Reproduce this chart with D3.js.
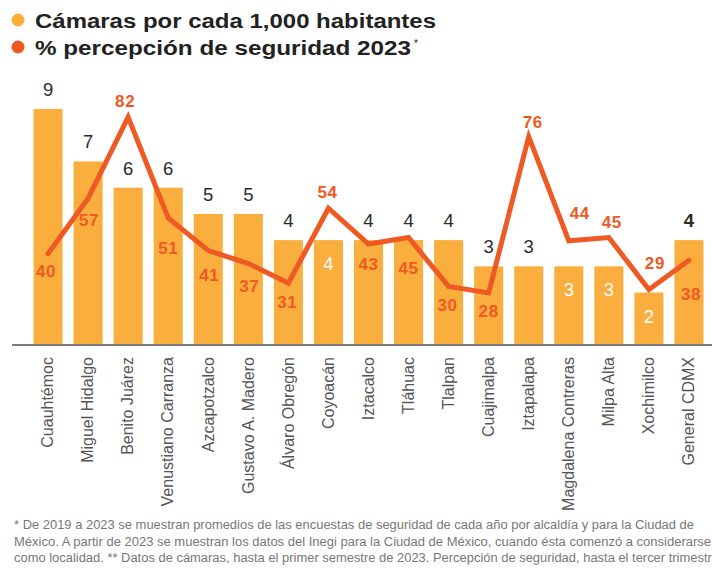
<!DOCTYPE html>
<html lang="es">
<head>
<meta charset="utf-8">
<script src="https://cdn.jsdelivr.net/npm/d3@7"></script>
<style>
  html, body { margin: 0; padding: 0; background: #fff; }
  svg { display: block; }
  text { font-family: "Liberation Sans", Arial, Helvetica, sans-serif; }
</style>
</head>
<body>
<svg id="chart" width="712" height="572"></svg>
<script>
// Alcaldías de la Ciudad de México
const alcaldias = [
  "Cuauhtémoc", "Miguel Hidalgo", "Benito Juárez", "Venustiano Carranza",
  "Azcapotzalco", "Gustavo A. Madero", "Álvaro Obregón", "Coyoacán",
  "Iztacalco", "Tláhuac", "Tlalpan", "Cuajimalpa", "Iztapalapa",
  "Magdalena Contreras", "Milpa Alta", "Xochimilco", "General CDMX"
];
// Cámaras por cada 1,000 habitantes
const camaras = [9, 7, 6, 6, 5, 5, 4, 4, 4, 4, 4, 3, 3, 3, 3, 2, 4];
// % percepción de seguridad 2023
const percepcion = [40, 57, 82, 51, 41, 37, 31, 54, 43, 45, 30, 28, 76, 44, 45, 29, 38];

const leyenda = ["Cámaras por cada 1,000 habitantes", "% percepción de seguridad 2023"];
const nota = [
  "* De 2019 a 2023 se muestran promedios de las encuestas de seguridad de cada año por alcaldía y para la Ciudad de",
  "México. A partir de 2023 se muestran los datos del Inegi para la Ciudad de México, cuando ésta comenzó a considerarse",
  "como localidad. ** Datos de cámaras, hasta el primer semestre de 2023. Percepción de seguridad, hasta el tercer trimestre"
];

// Label nudges for the percentage labels (px from each point: [dx, baseline dy])
const percLabelOffset = [
  [-2, 23], [1, 28], [-3, -10], [0, 36], [1, 30], [1, 28], [-1, 25], [-1, -10],
  [0, 26], [0, 36], [-1, 25], [0, 24], [4, -9], [11, -22], [3, -10], [6, -21], [2, 40]
];

const AMARILLO = "#FAAE3E";
const ROJO = "#EF5A24";

const svg = d3.select("#chart");

const x = d3.scaleBand()
  .domain(alcaldias)
  .range([28, 709])
  .paddingInner(0.275)
  .paddingOuter(0.1375);

const baseY = 345;
const yBar = d3.scaleLinear().domain([0, 9]).range([baseY, 109]);
const yLine = d3.scaleLinear().domain([0, 100]).range([384, 58.5]);

const cx = d => x(d) + x.bandwidth() / 2;

// Bars
svg.append("g").selectAll("rect")
  .data(alcaldias)
  .join("rect")
  .attr("x", d => x(d))
  .attr("width", x.bandwidth())
  .attr("y", (d, i) => yBar(camaras[i]))
  .attr("height", (d, i) => baseY - yBar(camaras[i]))
  .attr("fill", AMARILLO);

// Baseline + category labels
const axis = d3.axisBottom(x).tickSize(0).tickPadding(0);
const gx = svg.append("g").attr("transform", `translate(0,${baseY})`).call(axis);
gx.select(".domain").remove();
gx.append("line")
  .attr("x1", 12).attr("x2", 712)
  .attr("stroke", "#7a7a7a").attr("stroke-width", 2);
gx.selectAll(".tick text")
  .attr("transform", "rotate(-90)")
  .attr("text-anchor", "end")
  .attr("x", -12)
  .attr("y", 0)
  .attr("dy", "0.33em")
  .attr("font-size", 16)
  .attr("font-family", "'Liberation Sans', Arial, sans-serif")
  .attr("fill", "#555");

// Percentage line
const line = d3.line()
  .x((d, i) => cx(alcaldias[i]))
  .y(d => yLine(d));

svg.append("path")
  .datum(percepcion)
  .attr("d", line)
  .attr("fill", "none")
  .attr("stroke", ROJO)
  .attr("stroke-width", 5)
  .attr("stroke-linejoin", "miter")
  .attr("stroke-linecap", "round");

// Camera value labels: above the bar, or inside in white when the
// percentage label sits just above the bar
svg.append("g").selectAll("text")
  .data(alcaldias)
  .join("text")
  .each(function (d, i) {
    const top = yBar(camaras[i]);
    const lineAbove = percLabelOffset[i][1] < 0;
    const inside = lineAbove && (top - yLine(percepcion[i])) < 40;
    d3.select(this)
      .attr("x", cx(d))
      .attr("y", inside ? top + 30 : top - 13)
      .attr("fill", inside ? "#fff" : "#2b2b2b")
      .attr("font-weight", i === alcaldias.length - 1 ? "bold" : "normal");
  })
  .attr("text-anchor", "middle")
  .attr("font-size", 18.5)
  .text((d, i) => camaras[i]);

// Percentage labels
svg.append("g").selectAll("text")
  .data(percepcion)
  .join("text")
  .attr("x", (d, i) => cx(alcaldias[i]) + percLabelOffset[i][0])
  .attr("y", (d, i) => yLine(d) + percLabelOffset[i][1])
  .attr("text-anchor", "middle")
  .attr("font-size", 17)
  .attr("font-weight", "bold")
  .attr("letter-spacing", 0.6)
  .attr("fill", ROJO)
  .text(d => d);

// Legend
const leg = svg.append("g");
const legColors = [AMARILLO, ROJO];
const legY = [28, 55];
const legW = [401, 376];
leyenda.forEach((t, i) => {
  leg.append("circle")
    .attr("cx", 18).attr("cy", legY[i] - 8).attr("r", 6.5)
    .attr("fill", legColors[i]);
  leg.append("text")
    .attr("x", 35).attr("y", legY[i])
    .attr("font-size", 20)
    .attr("font-weight", "bold")
    .attr("fill", "#222")
    .attr("textLength", legW[i])
    .attr("lengthAdjust", "spacingAndGlyphs")
    .text(t);
});
leg.append("text")
  .attr("x", 414).attr("y", 47)
  .attr("font-size", 10)
  .attr("fill", "#222")
  .text("*");

// Footnote
const notaY = [529, 546, 562];
const notaW = [680, 697, 705];
svg.append("g").selectAll("text")
  .data(nota)
  .join("text")
  .attr("x", 14)
  .attr("y", (d, i) => notaY[i])
  .attr("font-size", 12.5)
  .attr("fill", "#777")
  .attr("textLength", (d, i) => notaW[i])
  .attr("lengthAdjust", "spacingAndGlyphs")
  .text(d => d);
</script>
</body>
</html>
